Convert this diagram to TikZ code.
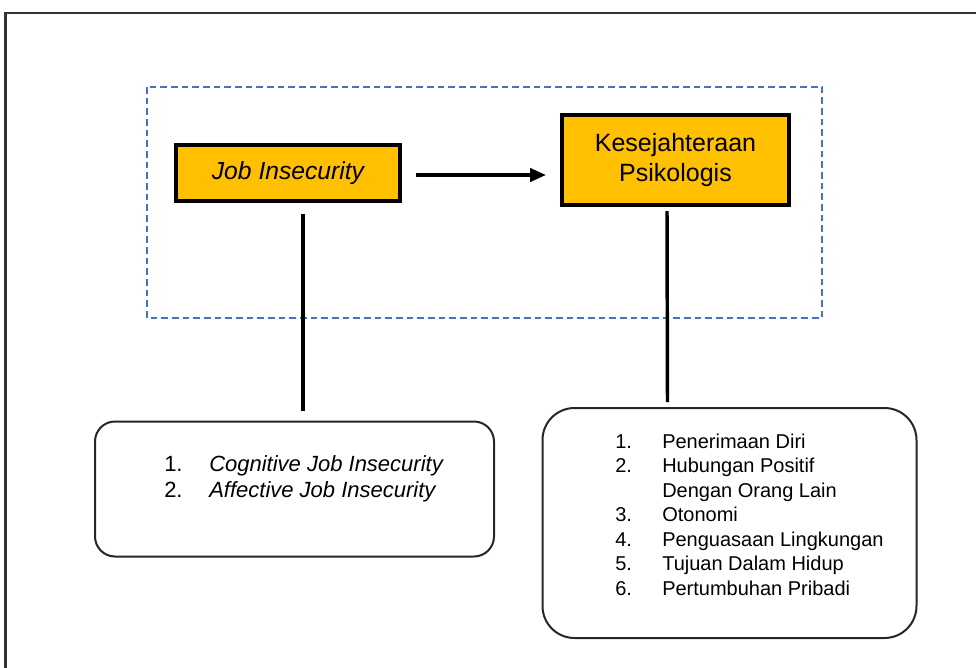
\documentclass[tikz,border=0pt]{standalone}
\usepackage{fontspec}
\setmainfont{Liberation Sans}
\usetikzlibrary{arrows.meta}
\definecolor{boxfill}{RGB}{255,192,0}
\definecolor{dashblue}{RGB}{68,114,196}
\definecolor{framegray}{RGB}{50,50,50}
\newcommand{\itm}[3][33.75pt]{\makebox[#1][l]{#2}#3}

\begin{document}
\begin{tikzpicture}[x=0.75pt,y=-0.75pt,
    varbox/.style={draw=black,line width=3pt,fill=boxfill,inner sep=0pt,
      align=center},
    listbox/.style={draw=black!85,line width=1.5pt,rounded corners=15pt,
      inner sep=0pt},
    items/.style={inner sep=0pt,anchor=base west},
    link/.style={line width=2.6pt},
    flow/.style={line width=2.6pt,-{Triangle[length=12pt,width=10pt]}}]
  \useasboundingbox (0,0) rectangle (976,668);
  \draw[framegray,line width=1.6pt] (5.5,700) |- (1000,13);
  \draw[dashblue,line width=1.1pt,dash pattern=on 5pt off 3pt]
    (147,87) rectangle (822,318);

  \node[varbox,minimum width=168pt,minimum height=42pt,
    font=\fontsize{18.5}{22.5}\selectfont\itshape] (ji) at (288,173) {Job Insecurity};
  \node[varbox,minimum width=170.25pt,minimum height=67.5pt,
    font=\fontsize{18.75}{22.5}\selectfont] (kp) at (675.5,160)
    {Kesejahteraan\\Psikologis};

  \node[listbox,minimum width=299.25pt,minimum height=101.25pt] (jl) at (294.5,489) {};
  \node[listbox,minimum width=280.5pt,minimum height=172.5pt,
    rounded corners=24pt] (kl) at (729.5,523) {};

  \node[items,font=\fontsize{16.5}{19.7}\selectfont] (jitems) at (164,471.5)
    {\begin{tabular}[t]{@{}l@{}}
      \itm{1.}{\textit{Cognitive Job Insecurity}}\\
      \itm{2.}{\textit{Affective Job Insecurity}}
    \end{tabular}};
  \node[items,font=\fontsize{15}{18.4}\selectfont] (kitems) at (615,448)
    {\begin{tabular}[t]{@{}l@{}}
      \itm[35.25pt]{1.}{Penerimaan Diri}\\
      \itm[35.25pt]{2.}{Hubungan Positif}\\
      \itm[35.25pt]{}{Dengan Orang Lain}\\
      \itm[35.25pt]{3.}{Otonomi}\\
      \itm[35.25pt]{4.}{Penguasaan Lingkungan}\\
      \itm[35.25pt]{5.}{Tujuan Dalam Hidup}\\
      \itm[35.25pt]{6.}{Pertumbuhan Pribadi}
    \end{tabular}};

  \draw[flow] ([shift={(14,2)}]ji.east) -- ([shift={(-14,15)}]kp.west);
  \draw[link] ([shift={(15,11)}]ji.south) -- ([shift={(8.5,-10)}]jl.north);
  \draw[link] ([shift={(-8.5,4)}]kp.south) -- ([shift={(-62,-5)}]kl.north);
\end{tikzpicture}
\end{document}
